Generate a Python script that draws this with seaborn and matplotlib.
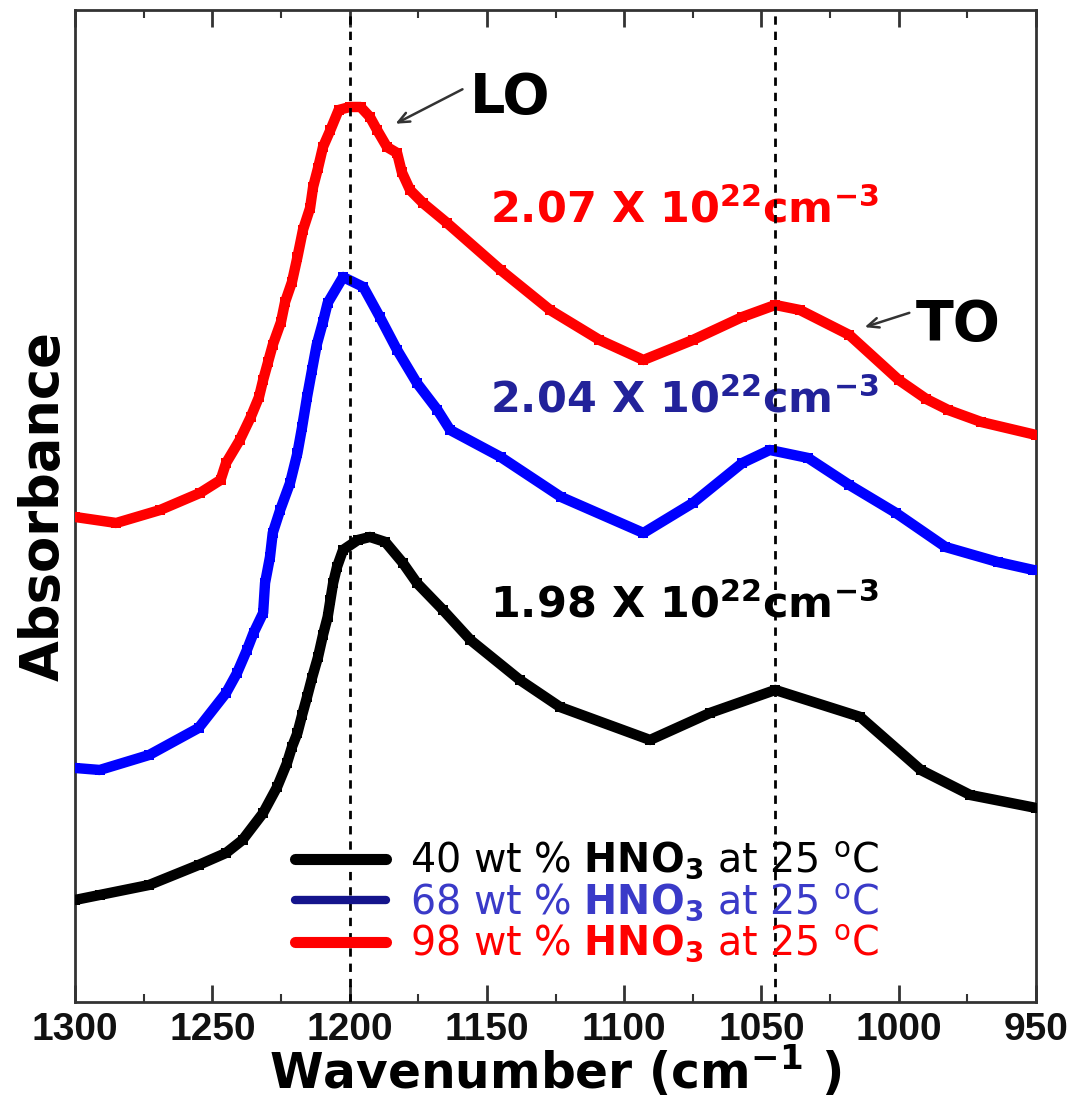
import numpy as np
import pandas as pd
import matplotlib
matplotlib.use("Agg")
import matplotlib.pyplot as plt
import seaborn as sns
from matplotlib import font_manager
from matplotlib.ticker import MultipleLocator

# ---------------- data ----------------
wn_98 = [1300, 1285, 1269, 1254.5, 1247, 1245, 1240, 1236, 1233, 1231.5, 1229.7, 1228, 1225, 1223.5,
         1221, 1219, 1217, 1214.4, 1213.3, 1211.5, 1209.7, 1207, 1204, 1200, 1196, 1192.6, 1190,
         1186.4, 1182.7, 1181, 1178, 1173.3, 1164.5, 1145, 1127, 1109, 1093, 1075, 1057, 1045,
         1036, 1018, 1000, 990, 982, 970, 950]
abs_98 = [0.485, 0.479, 0.492, 0.509, 0.522, 0.539, 0.562, 0.585, 0.605, 0.622, 0.640, 0.657, 0.680,
          0.700, 0.720, 0.745, 0.772, 0.794, 0.815, 0.834, 0.855, 0.872, 0.892, 0.895, 0.895, 0.885,
          0.872, 0.855, 0.849, 0.830, 0.812, 0.799, 0.779, 0.732, 0.692, 0.662, 0.642, 0.662, 0.685,
          0.697, 0.692, 0.667, 0.622, 0.603, 0.592, 0.580, 0.567]

wn_68 = [1300, 1291, 1273, 1255, 1245, 1241, 1237.4, 1235, 1231.5, 1230.8, 1229, 1228, 1225.3, 1221.7,
         1219, 1217.3, 1215.5, 1213.7, 1212, 1209.7, 1208, 1202.4, 1195, 1189, 1182.7, 1175.5, 1168,
         1163.4, 1145, 1123, 1093, 1075, 1057, 1047, 1033, 1018, 1001, 983, 964, 951]
abs_68 = [0.234, 0.232, 0.247, 0.274, 0.309, 0.329, 0.352, 0.369, 0.389, 0.419, 0.445, 0.469, 0.492,
          0.519, 0.549, 0.575, 0.605, 0.632, 0.657, 0.680, 0.699, 0.725, 0.715, 0.685, 0.652, 0.619,
          0.592, 0.572, 0.545, 0.505, 0.469, 0.499, 0.539, 0.552, 0.544, 0.517, 0.489, 0.455, 0.440,
          0.432]

wn_40 = [1300, 1291, 1273, 1255, 1245, 1239, 1231.5, 1226.4, 1222.8, 1221, 1219, 1217.3, 1215.5,
         1213.7, 1211.5, 1209.7, 1208, 1207, 1206, 1204.6, 1202.4, 1197, 1192.6, 1187, 1180.6,
         1175.5, 1166, 1156, 1138, 1123.4, 1090.6, 1068.8, 1045, 1014, 992, 974, 950]
abs_40 = [0.102, 0.107, 0.117, 0.137, 0.149, 0.162, 0.189, 0.215, 0.239, 0.255, 0.269, 0.287, 0.305,
          0.324, 0.345, 0.367, 0.385, 0.402, 0.419, 0.435, 0.452, 0.462, 0.465, 0.460, 0.439, 0.419,
          0.392, 0.362, 0.322, 0.295, 0.262, 0.289, 0.312, 0.285, 0.232, 0.207, 0.194]

series_names = ["40 wt % HNO3", "68 wt % HNO3", "98 wt % HNO3"]
legend_labels = [r"40 wt % $\mathbf{HNO_3}$ at 25 $^{o}$C",
                 r"68 wt % $\mathbf{HNO_3}$ at 25 $^{o}$C",
                 r"98 wt % $\mathbf{HNO_3}$ at 25 $^{o}$C"]
conc_labels = [r"1.98 X 10$^{22}$cm$^{-3}$", r"2.04 X 10$^{22}$cm$^{-3}$", r"2.07 X 10$^{22}$cm$^{-3}$"]
peak_lines = [1200, 1045]
x_ticks = [1300, 1250, 1200, 1150, 1100, 1050, 1000, 950]

# ---------------- style ----------------
sns.set_style("white")
plt.rcParams["font.family"] = ["DejaVu Sans"]
plt.rcParams["mathtext.default"] = "regular"
plt.rcParams["mathtext.fontset"] = "dejavusans"
plt.rcParams["text.color"] = "black"
plt.rcParams["axes.labelcolor"] = "black"

installed = {f.name for f in font_manager.fontManager.ttflist}
tick_font = "Liberation Sans" if "Liberation Sans" in installed else "DejaVu Sans"

line_colors = ["#000000", "#0000ff", "#ff0000"]
legend_line_colors = ["#000000", "#14148c", "#ff0000"]
legend_text_colors = ["#000000", "#3a3ac8", "#ff0000"]
conc_colors = ["#000000", "#22229a", "#ff0000"]

df = pd.concat([
    pd.DataFrame({"wavenumber": wn_40, "absorbance": abs_40, "sample": series_names[0]}),
    pd.DataFrame({"wavenumber": wn_68, "absorbance": abs_68, "sample": series_names[1]}),
    pd.DataFrame({"wavenumber": wn_98, "absorbance": abs_98, "sample": series_names[2]}),
])

fig = plt.figure(figsize=(10.75, 10.99), dpi=100)
ax = fig.add_axes([0.0698, 0.0883, 0.894, 0.9026])

sns.lineplot(data=df, x="wavenumber", y="absorbance", hue="sample", hue_order=series_names,
             palette=line_colors, linewidth=7.5, marker="s", markersize=7.5, markeredgewidth=0,
             estimator=None, legend=False, ax=ax, zorder=3)

for xv in peak_lines:
    ax.axvline(xv, color="black", linestyle=(0, (3, 2.5)), linewidth=2, zorder=5)

ax.set_xlim(1300, 950)
ax.set_ylim(0, 0.992)
ax.set_xticks(x_ticks)
ax.xaxis.set_minor_locator(MultipleLocator(25))
ax.set_yticks([])
ax.tick_params(axis="x", which="both", direction="in", top=True, bottom=True, color="#333333")
ax.tick_params(axis="x", which="major", length=12, width=2, pad=7)
ax.tick_params(axis="x", which="minor", length=6, width=1.5)
for lab in ax.get_xticklabels():
    lab.set_fontfamily(tick_font)
    lab.set_fontsize(28)
    lab.set_fontweight("bold")
    lab.set_color("#111111")
for sp in ax.spines.values():
    sp.set_color("#333333")
    sp.set_linewidth(2)

ax.set_xlabel(r"Wavenumber (cm$^{-1}$ )", fontsize=35, fontweight="bold", va="baseline")
ax.xaxis.set_label_coords(0.5, -0.088)
ax.set_ylabel("Absorbance", fontsize=38, fontweight="bold", labelpad=4)

# concentration labels
conc_y = [0.397, 0.602, 0.792]
for lab, col, yy in zip(conc_labels, conc_colors, conc_y):
    ax.text(1149, yy, lab, color=col, fontsize=31, fontweight="bold", va="center", ha="left", zorder=4)

# LO / TO annotations
ax.annotate("", xy=(1184.2, 0.877), xytext=(1158, 0.914),
            arrowprops=dict(arrowstyle="->,head_length=0.8,head_width=0.35", color="#333333", lw=1.8))
ax.text(1141.5, 0.904, "LO", fontsize=40, fontweight="bold", ha="center", va="center")
ax.annotate("", xy=(1013.4, 0.674), xytext=(995.2, 0.690),
            arrowprops=dict(arrowstyle="->,head_length=0.8,head_width=0.35", color="#333333", lw=1.8))
ax.text(978.4, 0.677, "TO", fontsize=40, fontweight="bold", ha="center", va="center")

# legend
handles = ax.lines[:3]
leg = ax.legend(handles, legend_labels, loc="upper left", bbox_to_anchor=(0.229, 0.163),
                frameon=False, fontsize=28.5, handlelength=2.3, handletextpad=0.6,
                labelspacing=0.0, borderpad=0, borderaxespad=0, labelcolor=legend_text_colors)
for h, c, lw in zip(leg.legend_handles, legend_line_colors, [8, 6, 8]):
    h.set_color(c)
    h.set_linewidth(lw)
    h.set_marker("")

fig.savefig("out.png", dpi=100)
